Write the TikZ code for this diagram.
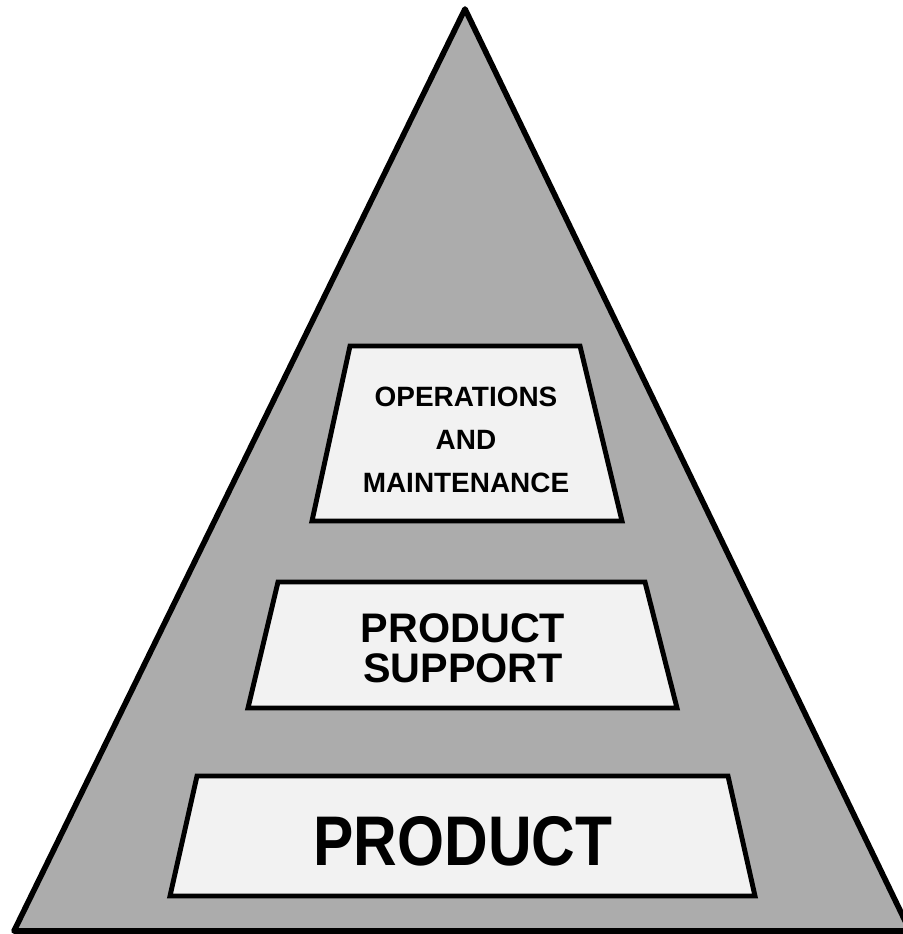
\documentclass[tikz,border=0pt]{standalone}
\usepackage{fontspec}
\setmainfont{Liberation Sans}
\usepackage{tikz}
\usetikzlibrary{positioning}
\usepackage{xcolor}
\definecolor{pyramidgray}{RGB}{172,172,172}
\definecolor{tierfill}{RGB}{242,242,242}

\begin{document}
\begin{tikzpicture}[x=0.02cm, y=-0.02cm,
    tier/.style={draw=black, line width=2.8pt, fill=tierfill, line join=miter},
    tierlabel/.style={font=\bfseries, align=center, inner sep=0pt}]
    \useasboundingbox (0,0) rectangle (903,934);

    % Pyramid outline
    \draw[line width=3.2pt, fill=pyramidgray, line join=round]
        (14,931) -- (465,9) -- (910,931) -- cycle;

    % Tiers
    \draw[tier] (350,346) -- (580,346) -- (622,521) -- (312,521) -- cycle;
    \draw[tier] (278,582) -- (645,582) -- (677,708) -- (248,708) -- cycle;
    \draw[tier] (197,776) -- (728,776) -- (755,896) -- (170,896) -- cycle;

    % Tier labels
    \node[tierlabel, font=\fontsize{15.9}{24.4}\selectfont\bfseries] (ops) at (466,440)
        {OPERATIONS\\AND\\MAINTENANCE};
    \node[tierlabel, font=\fontsize{23.5}{23}\selectfont\bfseries] (support) at (463,648)
        {PRODUCT\\SUPPORT};
    \node[tierlabel, font=\fontsize{40}{40}\selectfont\bfseries] (product) at (463,841)
        {\scalebox{0.86}[1]{PRODUCT}};
\end{tikzpicture}
\end{document}
